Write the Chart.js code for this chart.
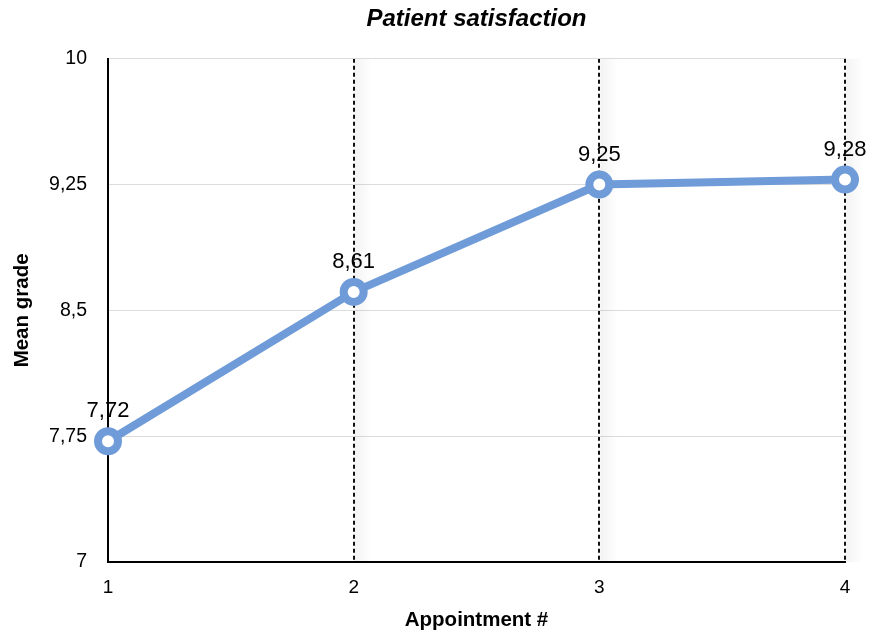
<!DOCTYPE html>
<html>
<head>
<meta charset="utf-8">
<script src="https://cdn.jsdelivr.net/npm/chart.js@4/dist/chart.umd.min.js"></script>
<style>
  html, body { margin: 0; padding: 0; background: #fff; }
  #wrap { width: 870px; height: 633px; }
</style>
</head>
<body>
<div id="wrap"><canvas id="c" width="870" height="633"></canvas></div>
<script>
// Appointment numbers and mean satisfaction grade per appointment
const appointments = ['1', '2', '3', '4'];
const meanGrades = [7.72, 8.61, 9.25, 9.28];
const gradeTicks = [7, 7.75, 8.5, 9.25, 10];

const FONT = "'Liberation Sans', Arial, Helvetica, sans-serif";
const LINE_BLUE = '#6f9bd8';

const commaDecimal = v => String(v).replace('.', ',');

// Soft grey shading just to the right of each dotted category line
const gridShade = {
  id: 'gridShade',
  beforeDatasetsDraw(chart) {
    const { ctx, chartArea, scales } = chart;
    ctx.save();
    appointments.forEach((lab, i) => {
      if (i === 0) return;
      const x = scales.x.getPixelForValue(i);
      const g = ctx.createLinearGradient(x, 0, x + 18, 0);
      g.addColorStop(0, 'rgba(0,0,0,0.05)');
      g.addColorStop(1, 'rgba(0,0,0,0)');
      ctx.fillStyle = g;
      ctx.fillRect(x + 1, chartArea.top, 18, chartArea.bottom - chartArea.top);
    });
    ctx.restore();
  }
};

// Value labels above every point
const valueLabels = {
  id: 'valueLabels',
  afterDatasetsDraw(chart) {
    const { ctx } = chart;
    const meta = chart.getDatasetMeta(0);
    ctx.save();
    ctx.font = '22px ' + FONT;
    ctx.fillStyle = '#000';
    ctx.textAlign = 'center';
    ctx.textBaseline = 'middle';
    meta.data.forEach((pt, i) => {
      ctx.fillText(commaDecimal(meanGrades[i]), pt.x, pt.y - 30);
    });
    ctx.restore();
  }
};

new Chart(document.getElementById('c'), {
  type: 'line',
  data: {
    labels: appointments,
    datasets: [{
      data: meanGrades,
      borderColor: LINE_BLUE,
      borderWidth: 8,
      pointRadius: 10,
      pointHoverRadius: 10,
      pointBorderWidth: 8,
      pointBackgroundColor: '#fff',
      pointBorderColor: LINE_BLUE,
      tension: 0,
      clip: false
    }]
  },
  options: {
    responsive: false,
    animation: false,
    layout: { padding: { top: 0, right: 25, bottom: 0, left: 0 } },
    plugins: {
      legend: { display: false },
      tooltip: { enabled: false },
      title: {
        display: true,
        text: 'Patient satisfaction',
        fullSize: false,
        color: '#000',
        font: { family: FONT, size: 24, weight: 'bold', style: 'italic' },
        padding: { top: 5, bottom: 25 }
      }
    },
    scales: {
      x: {
        type: 'category',
        offset: false,
        afterFit(s) { s.height = 71; },
        grid: { color: '#111', lineWidth: 2, drawTicks: false },
        border: { display: true, color: '#000', width: 2, dash: [4, 3] },
        ticks: { color: '#000', padding: 14, font: { family: FONT, size: 19 }, maxRotation: 0 },
        title: {
          display: true,
          text: 'Appointment #',
          color: '#000',
          font: { family: FONT, size: 20.5, weight: 'bold' },
          padding: { top: 0, bottom: 0 }
        }
      },
      y: {
        min: 7,
        max: 10,
        afterFit(s) { s.width = 108; },
        afterBuildTicks(s) { s.ticks = gradeTicks.map(v => ({ value: v })); },
        grid: { color: '#dcdcdc', lineWidth: 1, drawTicks: false },
        border: { display: true, color: '#000', width: 2 },
        ticks: {
          color: '#000',
          padding: 21,
          font: { family: FONT, size: 19.5 },
          callback: v => commaDecimal(v)
        },
        title: {
          display: true,
          text: 'Mean grade',
          color: '#000',
          font: { family: FONT, size: 20.5, weight: 'bold' },
          padding: { top: 10, bottom: 0 }
        }
      }
    }
  },
  plugins: [gridShade, valueLabels]
});
</script>
</body>
</html>
